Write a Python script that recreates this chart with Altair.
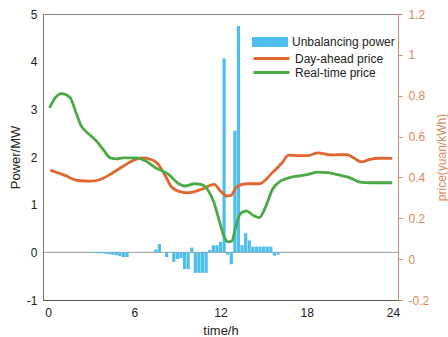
import altair as alt
import pandas as pd

# ---- data ----
bar_time = [i * 0.25 for i in range(96)]
power = ([0.0] * 12 +
         [-0.01, -0.01, -0.02, -0.02, -0.03, -0.04, -0.05, -0.06, -0.08, -0.1, -0.1, 0.0] +
         [0.0] * 6 +
         [0.06, 0.17, 0.0, -0.1, 0.0, -0.2, -0.14, -0.12, -0.35, -0.35,
          0.1, -0.43, -0.43, -0.43, -0.43, 0.05, 0.15, 0.15, 0.22, 4.07,
          -0.05, -0.25, 2.55, 4.75, 0.15, 0.4, 0.25, 0.12, 0.12, 0.12,
          0.12, 0.12, 0.12, -0.07, -0.05] +
         [0.0] * 31)

da_time = [0.16, 1.17, 2.08, 2.98, 3.65, 4.33, 5.23, 6.14, 6.59, 7.26, 7.6, 8.17,
           8.6, 9.3, 9.74, 10.65, 11.55, 12.0, 12.45, 12.72, 13.13, 13.8, 14.7,
           15.6, 16.29, 16.74, 17.4, 18.09, 18.77, 19.67, 20.8, 21.25, 21.8,
           22.38, 23.05, 23.95]
da_price = [0.436, 0.41, 0.385, 0.382, 0.39, 0.415, 0.455, 0.49, 0.496, 0.485, 0.47,
            0.407, 0.353, 0.328, 0.325, 0.341, 0.366, 0.333, 0.309, 0.312, 0.354,
            0.369, 0.369, 0.423, 0.472, 0.509, 0.507, 0.507, 0.52, 0.51, 0.512,
            0.496, 0.476, 0.488, 0.494, 0.493]

rt_time = [0.11, 0.5, 0.95, 1.51, 1.96, 2.3, 2.75, 3.32, 3.88, 4.33, 4.78, 5.23,
           6.14, 6.81, 7.49, 8.39, 9.07, 9.52, 10.2, 10.65, 11.1, 11.55, 11.89,
           12.23, 12.52, 12.79, 13.02, 13.35, 13.8, 14.26, 14.7, 15.16, 15.61,
           16.17, 16.74, 17.41, 18.09, 18.77, 19.45, 20.35, 21.02, 21.7, 22.38,
           23.95]
rt_price = [0.74, 0.789, 0.81, 0.793, 0.715, 0.654, 0.618, 0.582, 0.533, 0.496,
            0.491, 0.496, 0.496, 0.48, 0.447, 0.415, 0.37, 0.358, 0.369, 0.366,
            0.341, 0.276, 0.195, 0.114, 0.085, 0.089, 0.146, 0.22, 0.236, 0.215,
            0.203, 0.26, 0.341, 0.382, 0.398, 0.407, 0.415, 0.426, 0.423, 0.41,
            0.398, 0.377, 0.374, 0.374]

x_ticks = [0, 6, 12, 18, 24]
left_ticks = [-1, 0, 1, 2, 3, 4, 5]
right_ticks = [-0.2, 0, 0.2, 0.4, 0.6, 0.8, 1, 1.2]

BLUE = "#4DBEEE"
ORANGE = "#E2672E"
GREEN = "#4BAA45"
AXIS_ORANGE = "#D98A5E"
FONT = "Liberation Sans"

bar_df = pd.DataFrame({"time": bar_time, "power": power, "series": "Unbalancing power"})
bar_df = bar_df[bar_df["power"] != 0]
line_df = pd.concat([
    pd.DataFrame({"time": da_time, "price": da_price, "series": "Day-ahead price"}),
    pd.DataFrame({"time": rt_time, "price": rt_price, "series": "Real-time price"}),
])
zero_df = pd.DataFrame({"y": [0]})

x_enc = alt.X("time:Q", scale=alt.Scale(domain=[0, 24], nice=False),
              axis=alt.Axis(values=x_ticks, title="time/h", tickSize=0, labelPadding=7,
                            domainColor="#555", titlePadding=6))
left_scale = alt.Scale(domain=[-1, 5], nice=False, zero=False)
left_axis = alt.Axis(values=left_ticks, title="Power/MW", orient="left", tickSize=0,
                     labelPadding=6, domainColor="#777", labelExpr="'' + datum.value")
right_scale = alt.Scale(domain=[-0.2, 1.2], nice=False, zero=False)
right_axis = alt.Axis(values=right_ticks, title="price(yuan/kWh)", orient="right",
                      tickSize=4, tickColor=AXIS_ORANGE, domainColor=AXIS_ORANGE,
                      labelColor=AXIS_ORANGE, titleColor=AXIS_ORANGE, titleAngle=270,
                      titleBaseline="bottom", titlePadding=20, titleFontSize=12,
                      labelPadding=6, labelExpr="'' + datum.value")

zero = alt.Chart(zero_df).mark_rule(color="#999", strokeWidth=1).encode(
    y=alt.Y("y:Q", scale=left_scale, axis=left_axis))

bars = alt.Chart(bar_df).mark_bar(width=3.2).encode(
    x=x_enc,
    y=alt.Y("power:Q", scale=left_scale, axis=left_axis),
    y2=alt.datum(0),
    fill=alt.Fill("series:N", scale=alt.Scale(domain=["Unbalancing power"], range=[BLUE]),
                  legend=alt.Legend(title=None, orient="none", legendX=221, legendY=22,
                                    symbolType="M-3,-0.85H3V0.85H-3Z", symbolSize=144,
                                    symbolStrokeWidth=0, labelOffset=16,
                                    labelFontSize=12, labelFont=FONT, labelColor="#222")),
)

lines = alt.Chart(line_df).mark_line(strokeWidth=2.8, interpolate="monotone").encode(
    x=x_enc,
    y=alt.Y("price:Q", scale=right_scale, axis=right_axis),
    color=alt.Color("series:N",
                    scale=alt.Scale(domain=["Day-ahead price", "Real-time price"],
                                    range=[ORANGE, GREEN]),
                    legend=alt.Legend(title=None, orient="none", legendX=221, legendY=37,
                                      symbolType="M-3,0H3", symbolSize=144,
                                      symbolStrokeWidth=3, labelOffset=16, rowPadding=0,
                                      labelFontSize=12, labelFont=FONT, labelColor="#222")),
)

left_layer = alt.layer(zero, bars)
chart = alt.layer(left_layer, lines).resolve_scale(y="independent").properties(
    width=355, height=286,
    autosize=alt.AutoSizeParams(type="none"),
    padding={"left": 43, "top": 14, "right": 50, "bottom": 37},
).configure_view(stroke="#888").configure_axis(
    labelFont=FONT, titleFont=FONT, labelFontSize=12, titleFontSize=13,
    titleFontWeight="normal", labelColor="#222", titleColor="#222", grid=False,
)

chart.save("out.html", embed_options={"renderer": "svg", "actions": False})
